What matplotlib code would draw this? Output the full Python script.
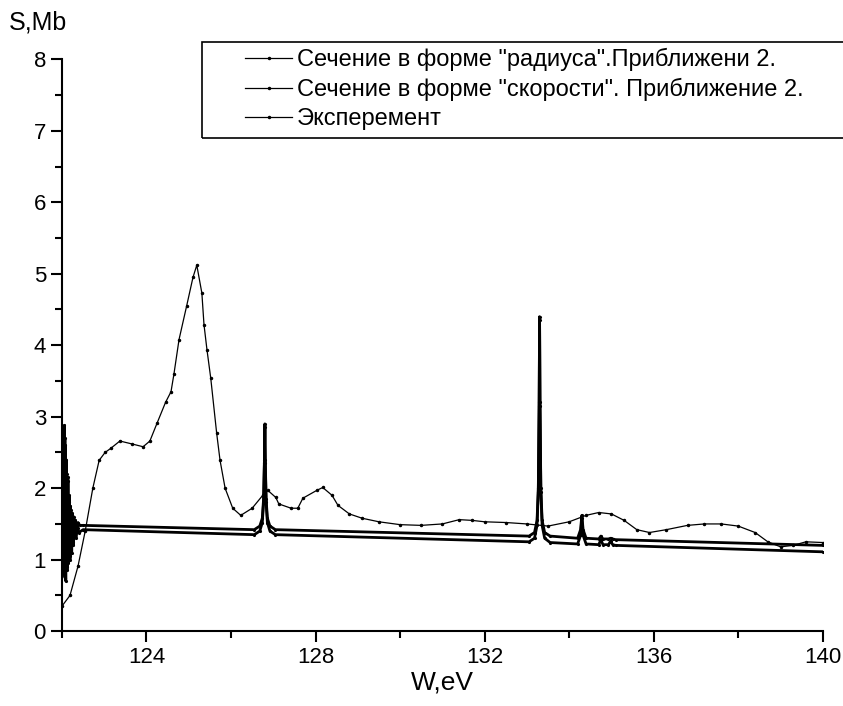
"""Cross-section near 122-140 eV: two model curves against experiment."""

import matplotlib

matplotlib.use("Agg")
import matplotlib.pyplot as plt
from matplotlib.lines import Line2D
from matplotlib.patches import Rectangle
from matplotlib.ticker import MultipleLocator

plt.rcParams["font.family"] = ["Liberation Sans", "DejaVu Sans"]

# experiment: W (eV), S (Mb)
exp_w = [122.00, 122.19, 122.38, 122.55, 122.73, 122.88, 123.02, 123.16, 123.37,
         123.65, 123.92, 124.08, 124.25, 124.45, 124.58, 124.65, 124.77, 124.95,
         125.10, 125.19, 125.31, 125.36, 125.43, 125.52, 125.66, 125.74, 125.86,
         126.04, 126.23, 126.50, 126.75, 126.87, 127.06, 127.13, 127.42, 127.58,
         127.70, 128.03, 128.17, 128.39, 128.53, 128.80, 129.10, 129.50, 130.00,
         130.50, 131.00, 131.40, 131.70, 132.00, 132.50, 133.00, 133.50, 134.00,
         134.40, 134.70, 135.00, 135.30, 135.60, 135.90, 136.30, 136.80, 137.20,
         137.60, 138.00, 138.40, 138.70, 139.00, 139.30, 139.60, 140.00]
exp_s = [0.35, 0.50, 0.91, 1.40, 2.00, 2.39, 2.50, 2.56, 2.66,
         2.62, 2.58, 2.66, 2.91, 3.20, 3.35, 3.60, 4.08, 4.55,
         4.95, 5.12, 4.73, 4.29, 3.94, 3.54, 2.77, 2.39, 2.00,
         1.72, 1.62, 1.72, 1.90, 1.97, 1.87, 1.78, 1.72, 1.72,
         1.86, 1.97, 2.01, 1.90, 1.76, 1.64, 1.58, 1.53, 1.49,
         1.48, 1.50, 1.56, 1.55, 1.53, 1.52, 1.50, 1.47, 1.53,
         1.62, 1.66, 1.64, 1.55, 1.42, 1.38, 1.42, 1.48, 1.50,
         1.50, 1.47, 1.38, 1.25, 1.18, 1.20, 1.25, 1.24]

# "radius" form cross-section
rad_w = [122.00, 122.02, 122.04, 122.06, 122.07, 122.08, 122.10, 122.11, 122.13,
         122.14, 122.16, 122.17, 122.19, 122.20, 122.22, 122.24, 122.26, 122.28,
         122.30, 122.32, 122.35, 122.38, 122.42, 122.50,
         126.55, 126.68, 126.74, 126.77, 126.79, 126.80, 126.81, 126.83, 126.86,
         126.92, 127.05,
         133.05, 133.18, 133.24, 133.27, 133.29, 133.30, 133.31, 133.33, 133.36,
         133.42, 133.55,
         134.20, 134.27, 134.30, 134.33, 134.40,
         134.70, 134.75, 134.80, 134.93, 134.98, 135.03, 135.10, 140.00]
rad_s = [1.20, 2.30, 0.90, 2.88, 0.75, 2.60, 0.85, 2.20, 0.90,
         2.15, 1.00, 1.90, 1.05, 1.75, 1.15, 1.65, 1.25, 1.60,
         1.35, 1.55, 1.40, 1.52, 1.48, 1.48,
         1.42, 1.47, 1.58, 1.85, 2.40, 2.90, 2.40, 1.85, 1.58,
         1.47, 1.42,
         1.33, 1.38, 1.55, 2.00, 3.20, 4.40, 3.20, 2.00, 1.55,
         1.38, 1.33,
         1.30, 1.42, 1.62, 1.42, 1.30,
         1.29, 1.33, 1.29, 1.29, 1.30, 1.29, 1.28, 1.20]

# "velocity" form cross-section
vel_w = [122.00, 122.03, 122.05, 122.07, 122.09, 122.10, 122.12, 122.14, 122.15,
         122.17, 122.19, 122.21, 122.23, 122.25, 122.27, 122.30, 122.33, 122.37,
         122.40, 122.50,
         126.55, 126.68, 126.74, 126.77, 126.79, 126.80, 126.81, 126.83, 126.86,
         126.92, 127.05,
         133.05, 133.18, 133.24, 133.27, 133.29, 133.30, 133.31, 133.33, 133.36,
         133.42, 133.55,
         134.20, 134.27, 134.30, 134.33, 134.40,
         134.70, 134.75, 134.80, 134.93, 134.98, 135.03, 135.10, 140.00]
vel_s = [0.90, 2.10, 0.80, 2.70, 0.70, 2.40, 0.85, 2.10, 0.95,
         1.80, 1.00, 1.70, 1.10, 1.60, 1.20, 1.52, 1.30, 1.45,
         1.38, 1.42,
         1.35, 1.40, 1.52, 1.80, 2.35, 2.85, 2.35, 1.80, 1.52,
         1.40, 1.35,
         1.25, 1.30, 1.48, 1.95, 3.15, 4.35, 3.15, 1.95, 1.48,
         1.30, 1.24,
         1.22, 1.34, 1.58, 1.34, 1.22,
         1.21, 1.28, 1.21, 1.21, 1.26, 1.21, 1.20, 1.11]

labels = ['Сечение в форме "радиуса".Приближени 2.',
          'Сечение в форме "скорости". Приближение 2.',
          'Эксперемент']

fig = plt.figure(figsize=(8.43, 7.06), dpi=100)
ax = fig.add_axes([0.0735, 0.106, 0.9025, 0.81])

ax.plot(rad_w, rad_s, color="black", lw=2.0, marker=".", ms=2.5)
ax.plot(vel_w, vel_s, color="black", lw=2.0, marker=".", ms=2.5)
ax.plot(exp_w, exp_s, color="black", lw=0.9, marker=".", ms=3)

ax.set_xlim(122, 140)
ax.set_ylim(0, 8)
ax.set_xticks([124, 128, 132, 136, 140])
ax.xaxis.set_minor_locator(MultipleLocator(2))
ax.yaxis.set_major_locator(MultipleLocator(1))
ax.yaxis.set_minor_locator(MultipleLocator(0.5))
ax.tick_params(which="major", direction="out", length=8, width=1.5, labelsize=16)
ax.tick_params(which="minor", direction="out", length=5, width=1.5)
for side in ("top", "right"):
    ax.spines[side].set_visible(False)
for side in ("left", "bottom"):
    ax.spines[side].set_linewidth(1.5)

ax.set_xlabel("W,eV", fontsize=19, labelpad=2)
fig.text(0.01, 0.985, "S,Mb", fontsize=18, ha="left", va="top")

# legend box reaching the right edge of the figure
fig.patches.append(Rectangle((202 / 843, 1 - 138 / 706), 0.8, 96 / 706,
                             transform=fig.transFigure, fill=False,
                             edgecolor="black", lw=1.2))
handles = [Line2D([], [], color="black", lw=0.9, marker=".", ms=3) for _ in labels]
fig.legend(handles, labels, loc="upper left",
           bbox_to_anchor=(245 / 843, 1 - 48 / 706), frameon=False,
           fontsize=17, numpoints=1, handlelength=2.0, handletextpad=0.2,
           borderpad=0, borderaxespad=0, labelspacing=0.29)

fig.savefig("out.png", dpi=100)
